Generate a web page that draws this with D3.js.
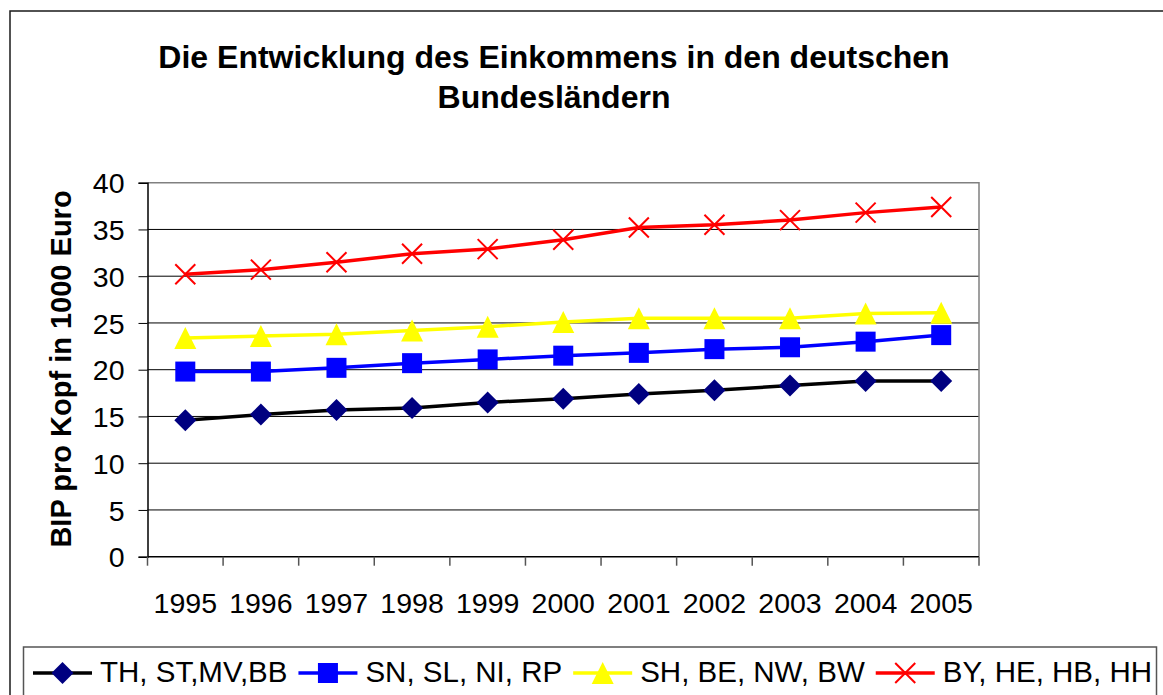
<!DOCTYPE html>
<html>
<head>
  <meta charset="utf-8">
  <title>Einkommen Bundeslaender</title>
  <style type="text/css">
    body { margin: 0; background: #fff; }
    svg { display: block; font-family: "Liberation Sans", Arial, sans-serif; }
  </style>
</head>
<body>
<svg id="vis" width="1163" height="695"></svg>

<script src="https://cdnjs.cloudflare.com/ajax/libs/d3/7.8.5/d3.min.js"></script>
<script type="text/javascript">
  var years = ['1995', '1996', '1997', '1998', '1999', '2000', '2001', '2002', '2003', '2004', '2005']
  var yTicks = [0, 5, 10, 15, 20, 25, 30, 35, 40]

  // BIP pro Kopf in 1000 Euro
  var ostLaender = [14.6, 15.2, 15.7, 15.9, 16.5, 16.9, 17.4, 17.8, 18.3, 18.8, 18.8]
  var mitteLaender = [19.8, 19.8, 20.2, 20.7, 21.1, 21.5, 21.8, 22.2, 22.4, 23.0, 23.7]
  var westLaender = [23.4, 23.6, 23.8, 24.2, 24.6, 25.1, 25.5, 25.5, 25.5, 26.0, 26.1]
  var suedLaender = [30.2, 30.7, 31.5, 32.4, 32.9, 33.9, 35.2, 35.5, 36.0, 36.8, 37.4]

  var seriesNames = ['TH, ST,MV,BB', 'SN, SL, NI, RP', 'SH, BE, NW, BW', 'BY, HE, HB, HH']

  var series = [
    { name: seriesNames[0], values: ostLaender, line: '#000000', fill: '#000080', marker: 'diamond' },
    { name: seriesNames[1], values: mitteLaender, line: '#0000ff', fill: '#0000ff', marker: 'square' },
    { name: seriesNames[2], values: westLaender, line: '#ffff00', fill: '#ffff00', marker: 'triangle' },
    { name: seriesNames[3], values: suedLaender, line: '#ff0000', fill: '#ff0000', marker: 'cross' }
  ]

  var svg = d3.select('#vis')
  var plot = { left: 147.5, right: 979, top: 182.7, bottom: 556.7 }

  var xScale = d3.scaleBand()
    .domain(years)
    .range([plot.left, plot.right])
    .padding(0)

  var yScale = d3.scaleLinear()
    .domain([0, 40])
    .range([plot.bottom, plot.top])

  // outer chart border (runs off the picture on the right and bottom)
  svg.append('rect')
    .attr('x', 10).attr('y', 11)
    .attr('width', 1200).attr('height', 800)
    .attr('fill', 'none')
    .attr('stroke', '#1a1a1a')
    .attr('stroke-width', 1.5)

  // title
  var title = svg.append('text')
    .attr('text-anchor', 'middle')
    .attr('font-weight', 'bold')
    .attr('font-size', 32)
  title.append('tspan').attr('x', 554).attr('y', 68).text('Die Entwicklung des Einkommens in den deutschen')
  title.append('tspan').attr('x', 554).attr('y', 108).text('Bundesländern')

  // grid lines
  svg.append('g')
    .selectAll('line')
    .data(yTicks.filter(function(d) { return d > 0 && d < 40 }))
    .enter().append('line')
      .attr('x1', plot.left).attr('x2', plot.right)
      .attr('y1', function(d) { return yScale(d) })
      .attr('y2', function(d) { return yScale(d) })
      .attr('stroke', '#000')
      .attr('stroke-width', 1)

  // plot frame top and right
  svg.append('path')
    .attr('d', 'M' + plot.left + ',' + plot.top + 'H' + plot.right + 'V' + plot.bottom)
    .attr('fill', 'none')
    .attr('stroke', '#808080')
    .attr('stroke-width', 1.5)

  // y axis
  var yAxis = svg.append('g')
    .attr('transform', 'translate(' + plot.left + ',0)')
    .call(d3.axisLeft(yScale).tickValues(yTicks).tickSize(9).tickPadding(14))
  yAxis.select('.domain').attr('stroke', '#000').attr('stroke-width', 1.5)
  yAxis.selectAll('.tick line').attr('stroke', '#000')
  yAxis.selectAll('.tick text')
    .attr('font-size', 28.5)
    .attr('font-family', '"Liberation Sans", Arial, sans-serif')
    .attr('fill', '#000')
    .attr('dy', '0.36em')

  // x axis, ticks on the category borders
  var xAxis = svg.append('g')
    .attr('transform', 'translate(0,' + plot.bottom + ')')
  xAxis.append('line')
    .attr('x1', plot.left).attr('x2', plot.right)
    .attr('stroke', '#000').attr('stroke-width', 1.5)
  var borders = years.map(function(d) { return xScale(d) }).concat([plot.right])
  xAxis.selectAll('line.tick')
    .data(borders)
    .enter().append('line')
      .attr('class', 'tick')
      .attr('x1', function(d) { return d }).attr('x2', function(d) { return d })
      .attr('y1', 0).attr('y2', 9)
      .attr('stroke', '#555').attr('stroke-width', 1.5)
  xAxis.selectAll('text')
    .data(years)
    .enter().append('text')
      .attr('x', function(d) { return xScale(d) + xScale.bandwidth() / 2 })
      .attr('y', 56)
      .attr('text-anchor', 'middle')
      .attr('font-size', 28.5)
      .text(function(d) { return d })

  // y axis title
  svg.append('text')
    .attr('transform', 'translate(71,369) rotate(-90)')
    .attr('text-anchor', 'middle')
    .attr('font-weight', 'bold')
    .attr('font-size', 29)
    .text('BIP pro Kopf in 1000 Euro')

  function drawMarker(g, s, x, y) {
    var r = 11
    if (s.marker === 'diamond') {
      g.append('path')
        .attr('d', 'M' + x + ',' + (y - r) + 'L' + (x + r) + ',' + y + 'L' + x + ',' + (y + r) + 'L' + (x - r) + ',' + y + 'Z')
        .attr('fill', s.fill)
    } else if (s.marker === 'square') {
      g.append('rect')
        .attr('x', x - 10).attr('y', y - 10)
        .attr('width', 20).attr('height', 20)
        .attr('fill', s.fill)
    } else if (s.marker === 'triangle') {
      g.append('path')
        .attr('d', 'M' + x + ',' + (y - 11) + 'L' + (x + 11) + ',' + (y + 11) + 'L' + (x - 11) + ',' + (y + 11) + 'Z')
        .attr('fill', s.fill)
    } else {
      g.append('path')
        .attr('d', 'M' + (x - 10) + ',' + (y - 10) + 'L' + (x + 10) + ',' + (y + 10) + 'M' + (x + 10) + ',' + (y - 10) + 'L' + (x - 10) + ',' + (y + 10))
        .attr('stroke', s.fill)
        .attr('stroke-width', 2)
        .attr('fill', 'none')
    }
  }

  var line = d3.line()
    .x(function(d, i) { return xScale(years[i]) + xScale.bandwidth() / 2 })
    .y(function(d) { return yScale(d) })

  series.forEach(function(s) {
    var g = svg.append('g')
    g.append('path')
      .datum(s.values)
      .attr('d', line)
      .attr('fill', 'none')
      .attr('stroke', s.line)
      .attr('stroke-width', 3.5)
    s.values.forEach(function(v, i) {
      drawMarker(g, s, xScale(years[i]) + xScale.bandwidth() / 2, yScale(v))
    })
  })

  // legend
  var legend = svg.append('g')
  legend.append('rect')
    .attr('x', 23.5).attr('y', 647)
    .attr('width', 1133).attr('height', 80)
    .attr('fill', '#fff')
    .attr('stroke', '#555')
    .attr('stroke-width', 1.5)

  var lx = 33
  series.forEach(function(s) {
    var g = legend.append('g')
    g.append('line')
      .attr('x1', lx).attr('x2', lx + 59)
      .attr('y1', 673).attr('y2', 673)
      .attr('stroke', s.line)
      .attr('stroke-width', 3.5)
    drawMarker(g, s, lx + 29.5, 673)
    var t = g.append('text')
      .attr('x', lx + 67)
      .attr('y', 682)
      .attr('font-size', 29.5)
      .text(s.name)
    lx = lx + 67 + t.node().getComputedTextLength() + 11
  })
</script>
</body>
</html>
